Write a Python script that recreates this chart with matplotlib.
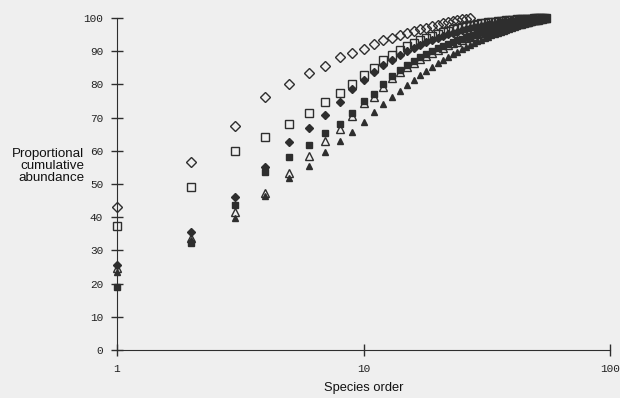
import numpy as np
import matplotlib.pyplot as plt

# valores (abundancia acumulada, %)
serie_a = [43, 56.6, 67.5, 76.2, 80.1, 83.4, 85.5, 88.3, 89.5, 90.8, 92.2, 93.3, 94.1,
           94.8, 95.4, 96.0, 96.6, 97.1, 97.6, 98.0, 98.4, 98.8, 99.1, 99.4, 99.6, 99.8, 100]
serie_b = [37.3, 49, 60, 64.2, 68, 71.4, 74.7, 77.4, 80, 82.8, 85, 87.3, 89, 90.4, 91.6,
           92.6, 93.4, 94.1, 94.7, 95.3, 95.8, 96.2, 96.6, 96.9, 97.2, 97.5, 97.8, 98.0,
           98.2, 98.4, 98.6, 98.7, 98.8, 98.9, 99.0, 99.1, 99.2, 99.3, 99.4, 99.45, 99.5,
           99.55, 99.6, 99.65, 99.7, 99.75, 99.8, 99.82, 99.85, 99.88, 99.9, 99.93, 99.95,
           99.98, 100]
serie_c = [25.5, 35.5, 46, 55, 62.6, 66.9, 70.8, 74.7, 78.6, 81.3, 83.7, 85.8, 87.5, 88.9,
           90.1, 91.1, 92.0, 92.8, 93.5, 94.1, 94.6, 95.1, 95.5, 95.9, 96.3, 96.6, 96.9,
           97.2, 97.4, 97.6, 97.8, 98.0, 98.2, 98.3, 98.5, 98.6, 98.7, 98.8, 98.9, 99.0,
           99.1, 99.2, 99.3, 99.4, 99.4, 99.5, 99.6, 99.6, 99.7, 99.8, 99.8, 99.9, 99.9,
           100, 100]
serie_d = [19, 32.2, 43.7, 53.5, 58, 61.7, 65.4, 68, 71.4, 75, 77, 80, 82.5, 84.3, 85.8,
           87.1, 88.2, 89.2, 90.1, 90.9, 91.6, 92.2, 92.8, 93.3, 93.8, 94.2, 94.6, 95.0,
           95.4, 95.7, 96.0, 96.3, 96.6, 96.8, 97.1, 97.3, 97.5, 97.7, 97.9, 98.1, 98.3,
           98.4, 98.6, 98.7, 98.9, 99.0, 99.1, 99.2, 99.4, 99.5, 99.6, 99.7, 99.8, 99.9, 100]
serie_e = [24.7, 33.7, 41.6, 47.3, 53.3, 58.4, 63, 66.5, 70.5, 74.4, 76.2, 79.2, 81.9,
           83.6, 85.1, 86.4, 87.6, 88.7, 89.6, 90.4, 91.1, 91.8, 92.4, 92.9, 93.4, 93.9,
           94.3, 94.7, 95.1, 95.4, 95.7, 96.0, 96.3, 96.6, 96.8, 97.1, 97.3, 97.5, 97.7,
           97.9, 98.1, 98.3, 98.4, 98.6, 98.7, 98.9, 99.0, 99.1, 99.3, 99.4, 99.5, 99.7,
           99.8, 99.9, 100]
serie_f = [23.5, 33, 39.8, 46.4, 51.8, 55.5, 59.6, 63, 65.7, 68.7, 71.8, 74, 76.2, 78,
           79.7, 81.3, 82.8, 84.1, 85.3, 86.4, 87.4, 88.3, 89.1, 89.9, 90.6, 91.3, 91.9,
           92.5, 93.0, 93.5, 94.0, 94.4, 94.8, 95.2, 95.6, 95.9, 96.2, 96.5, 96.8, 97.1,
           97.3, 97.6, 97.8, 98.0, 98.2, 98.4, 98.6, 98.8, 99.0, 99.2, 99.4, 99.5, 99.7,
           99.9, 100]

y_ticks = [0, 10, 20, 30, 40, 50, 60, 70, 80, 90, 100]
x_ticks = [1, 10, 100]

fondo = '#efefef'
tinta = '#2e2e2e'

fig = plt.figure(figsize=(6.2, 3.98), dpi=100)
fig.patch.set_facecolor(fondo)
ax = fig.add_axes([117 / 620, 1 - 350 / 398, 493 / 620, 332 / 398])
ax.set_facecolor(fondo)

# orden de dibujo: de abajo hacia arriba
estilos = [
    (serie_f, '^', tinta, 4.6),
    (serie_e, '^', 'none', 5.2),
    (serie_d, 's', tinta, 4.6),
    (serie_c, 'D', tinta, 3.6),
    (serie_b, 's', 'none', 5.4),
    (serie_a, 'D', 'none', 4.6),
]
for vals, m, fc, ms in estilos:
    rango = np.arange(1, len(vals) + 1)
    ax.plot(rango, vals, linestyle='none', marker=m, markersize=ms,
            markerfacecolor=fc, markeredgecolor=tinta, markeredgewidth=1.0,
            clip_on=False)

ax.set_xscale('log')
ax.set_xlim(1, 100)
ax.set_ylim(0, 100)
ax.set_xticks(x_ticks)
ax.set_xticklabels([str(t) for t in x_ticks])
ax.xaxis.set_minor_locator(plt.NullLocator())
ax.set_yticks(y_ticks)
ax.set_yticklabels([str(t) for t in y_ticks])

ax.spines['top'].set_visible(False)
ax.spines['right'].set_visible(False)
ax.spines['left'].set_color(tinta)
ax.spines['bottom'].set_color(tinta)
ax.tick_params(axis='both', direction='inout', length=8, width=1, colors=tinta,
               labelsize=8, pad=6)
for lab in ax.get_xticklabels() + ax.get_yticklabels():
    lab.set_fontfamily('Liberation Mono')
    lab.set_color('#222222')

ax.set_xlabel('Species order', fontsize=9.3, family='Liberation Sans', color='#111111',
              labelpad=6)
fig.text(84 / 620, 1 - 166 / 398, 'Proportional\ncumulative\nabundance', ha='right',
         va='center', multialignment='right', fontsize=9.6, family='Liberation Sans',
         color='#111111', linespacing=1.02)

fig.savefig('out.png', dpi=100, facecolor=fondo)
